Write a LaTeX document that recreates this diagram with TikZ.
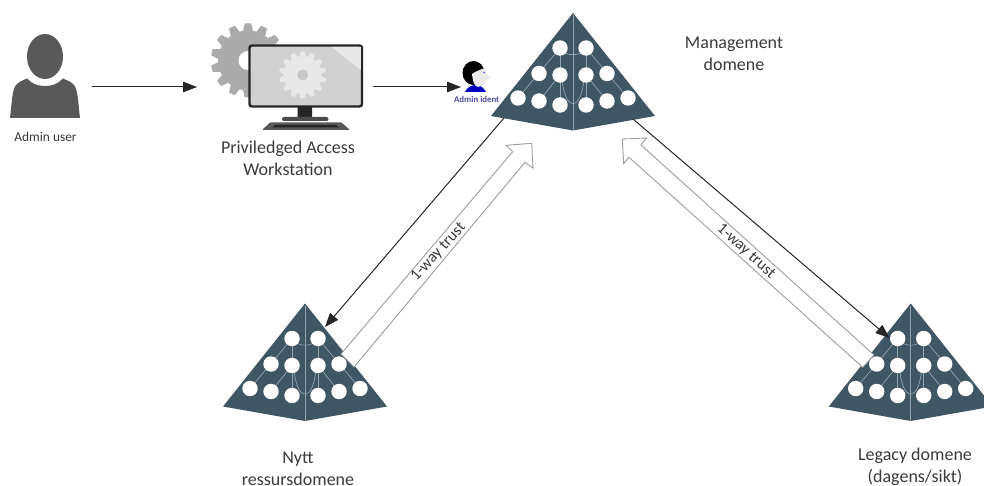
\documentclass[tikz,border=0pt]{standalone}
\usepackage{fontspec}
\setmainfont{Carlito}
\usetikzlibrary{arrows.meta}
\definecolor{forest}{HTML}{3F5665}
\definecolor{forestline}{HTML}{94A3AD}
\definecolor{person}{HTML}{595959}
\definecolor{txt}{HTML}{3A3A3A}
\tikzset{
  lab/.style={text=txt,font=\fontsize{18}{22}\selectfont,align=center,inner sep=0pt},
  smalllab/.style={text=txt,font=\fontsize{13.4}{16}\selectfont,inner sep=0pt},
  trustlab/.style={text=txt,font=\fontsize{16}{19}\selectfont,inner sep=0pt},
  conn/.style={draw=black!85,line width=1pt,-{Triangle[length=14pt,width=10.5pt]}},
  hollow/.style={draw=black!38,fill=white,line width=0.9pt,line join=miter},
  flink/.style={draw=forestline,line width=0.7pt},
  pics/forestpic/.style={code={
    \fill[forest] (0,0) -- (82,103) -- (0,117.5) -- (-82,103) -- cycle;
    \draw[flink] (0,2) -- (0,117);
    \draw[flink] (-13,35) .. controls (-8,44) and (8,44) .. (13,35);
    \draw[flink] (-13,35) -- (-13,92) (13,35) -- (13,92);
    \draw[flink] (-13,35) -- (-34,60) -- (-55,85);
    \draw[flink] (13,35) -- (34,60) -- (55,85);
    \draw[flink] (-13,62) -- (-34,88) (13,62) -- (34,88);
    \draw[flink] (-11,62) .. controls (-10,100) and (10,100) .. (11,62);
    \foreach \px/\py in {-13/35,13/35,-34/60.5,-13/62,13/62,34/60.5,-55/85,-34/88,-13/92,13/92,34/88,55/85}
      \fill[white] (\px,\py) circle[radius=7.7];
  }}
}
% gear: centre x, centre y, outer radius, root radius, tooth half widths, colour
\newcommand{\gearshape}[7]{%
  \fill[#7] (#1,#2) circle[radius=#4];
  \foreach \ga in {0,25.714,...,340}
    \fill[#7,rotate around={\ga:(#1,#2)}]
      (#1-#5,#2-#4+0.5) -- (#1-#6,#2-#3) -- (#1+#6,#2-#3) -- (#1+#5,#2-#4+0.5) -- cycle;
}
\begin{document}
\begin{tikzpicture}[x=1pt,y=-1pt]
\useasboundingbox (0,0) rectangle (984,486);
\clip (0,0) rectangle (984,486);

% named end points of the connectors
\coordinate (userOut) at (92,87);
\coordinate (pawIn) at (197,87);
\coordinate (pawOut) at (373,87);
\coordinate (identIn) at (461,87);
\coordinate (mgmtL) at (504,118);
\coordinate (nyttIn) at (325,327);
\coordinate (mgmtR) at (633,119);
\coordinate (legacyIn) at (889.5,338);

% admin user
\fill[person] (45,56.5) ellipse[x radius=18,y radius=22.5];
\fill[person] (10,118) .. controls (12,102) and (12,88) .. (17,84)
  .. controls (20,81) and (24,80) .. (27,78.5)
  .. controls (32,84) and (38,86) .. (45,86)
  .. controls (52,86) and (58,84) .. (63,78.5)
  .. controls (66,80) and (70,81) .. (73,84)
  .. controls (78,88) and (78,102) .. (80,118) -- cycle;
\node[smalllab] (userlab) at (45.5,136.5) {Admin user};

% workstation
\gearshape{248}{60.5}{37}{30}{5}{3.2}{black!33!white!100!black}
\fill[white] (248,60.5) circle[radius=9.5];
\fill[black!85!white,rounded corners=1pt] (297.5,106) rectangle (312,118);
\fill[black!70!white,rounded corners=2pt] (282,117) rectangle (328.5,121);
\fill[black!65!white,rounded corners=1pt] (270,122.5) -- (341.5,122.5) -- (350,130) -- (262,130) -- cycle;
\fill[black!85!white] (275,125) -- (336,125) -- (339,127.5) -- (272,127.5) -- cycle;
\draw[draw=black!85!white,fill=black!18!white,line width=2.4pt,rounded corners=2.5pt] (249.5,45.5) rectangle (362,106.5);
\fill[black!9!white] (331.5,46.8) -- (360.8,46.8) -- (360.8,70) -- cycle;
\gearshape{302.7}{75}{23.5}{19}{3.2}{2}{black!9!white}
\fill[black!22!white] (302.7,75) circle[radius=5.5];
\node[lab] (pawlab) at (288,158.5) {Priviledged Access\\Workstation};

% admin identity
\fill[blue!75!black] (465,92) .. controls (467,87) and (472,85) .. (476,85) .. controls (480,85) and (484,88) .. (486,92) -- cycle;
\fill[black] (473.5,73) ellipse[x radius=11,y radius=12];
\fill[black!8!white] (472,74) .. controls (476,71) and (482,69) .. (485,68) -- (485.5,72) -- (490,78) -- (486,80) -- (485,84) -- (478,87) .. controls (474,86) and (473,82) .. (472,74) -- cycle;
\fill[blue!60!white] (484,72.5) circle[radius=1];
\node[text=black!55!blue!70,font=\bfseries\fontsize{8.8}{10}\selectfont,inner sep=0pt] (identlab) at (476.7,99) {Admin ident};

% domains
\pic at (573,13) {forestpic};
\pic at (305,303.5) {forestpic};
\pic at (910.7,303.5) {forestpic};

\node[lab] (mgmtlab) at (734,54) {Management\\domene};
\node[lab] (nyttlab) at (298,469) {Nytt\\ressursdomene};
\node[lab] (legacylab) at (915,466.5) {Legacy domene\\(dagens/sikt)};

% connectors
\draw[conn] (userOut) -- (pawIn);
\draw[conn] (pawOut) -- (identIn);
\draw[conn] (mgmtL) -- (nyttIn);
\draw[conn] (mgmtR) -- (legacyIn);

% trust arrows
\draw[hollow] (341,354) -- (512.7,151.7) -- (506,145.3) -- (531.7,143.3) -- (533,168.3) -- (525,162.3) -- (354,367) -- cycle;
\draw[hollow] (874,355) -- (641,145) -- (646.7,138) -- (622.3,139) -- (623.7,163.7) -- (629,157.3) -- (862.7,367.3) -- cycle;
\node[trustlab,rotate=47.5] (trustL) at (438.5,252) {1-way trust};
\node[trustlab,rotate=-42.5] (trustR) at (746,251.5) {1-way trust};
\end{tikzpicture}
\end{document}
